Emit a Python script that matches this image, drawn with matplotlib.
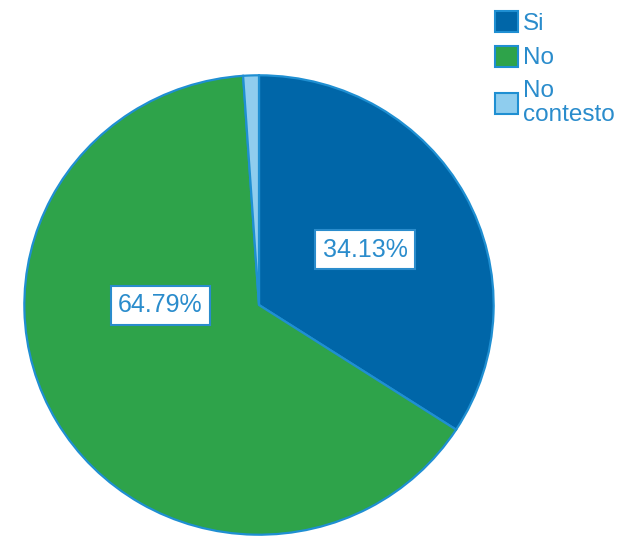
import matplotlib
matplotlib.use("Agg")
import matplotlib.pyplot as plt
from matplotlib.patches import Patch

categories = ["Si", "No", "No\ncontesto"]
values = [34.13, 64.79, 1.08]
colors = ["#0066a8", "#2ea34a", "#8fcdee"]
edge = "#1f8fd2"
text_color = "#2a8ccc"

plt.rcParams['font.family'] = ['Liberation Sans', 'DejaVu Sans']

fig = plt.figure(figsize=(6.32, 5.37), dpi=100)
W, H = 632, 537
cx, cy, rx, ry = 259, 305, 237, 232
ax = fig.add_axes([(cx - rx) / W, 1 - (cy + ry) / H, 2 * rx / W, 2 * ry / H])
wedges, _ = ax.pie(values, colors=colors, startangle=90, counterclock=False,
                   wedgeprops=dict(edgecolor=edge, linewidth=1.6), radius=1.0)
ax.set_xlim(-1.01, 1.01)
ax.set_ylim(-1.01, 1.01)
ax.set_aspect('auto')
ax.axis('off')

label_pos = [(0.453, 0.24), (-0.42, 0.0)]
for (x, y), v in zip(label_pos, values[:2]):
    ax.text(x, y, f"{v:.2f}%", ha='center', va='center', fontsize=18,
            color=text_color,
            bbox=dict(boxstyle='square,pad=0.3', facecolor='white',
                      edgecolor=text_color, linewidth=1.5))

handles = [Patch(facecolor=c, edgecolor=edge, linewidth=1.5) for c in colors]
leg = fig.legend(handles, categories, loc='upper left',
                 bbox_to_anchor=(490 / W, 1 - 6 / H), frameon=False,
                 fontsize=17.5, handlelength=0.95, handleheight=0.95,
                 handletextpad=0.2, labelspacing=0.45, borderaxespad=0,
                 borderpad=0.2)
for t in leg.get_texts():
    t.set_color(text_color)
    t.set_linespacing(1.1)

fig.savefig("out.png", dpi=100)
